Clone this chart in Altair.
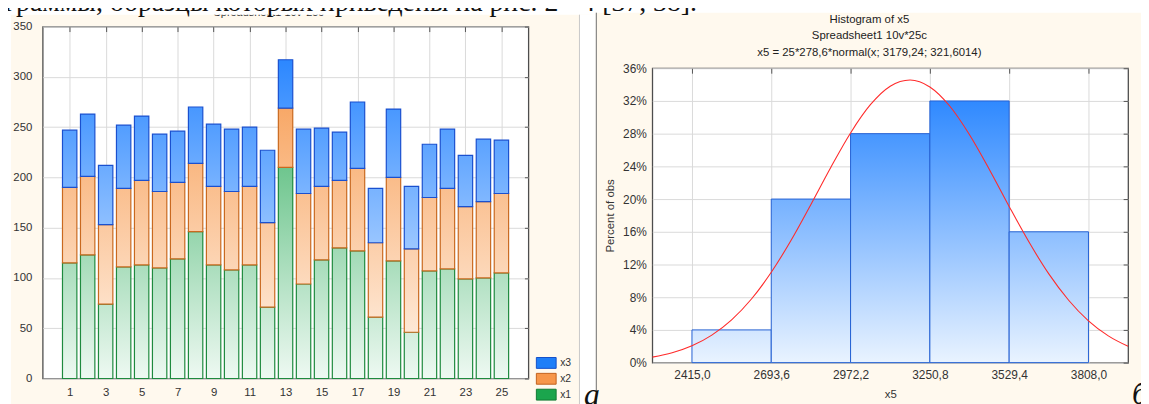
import altair as alt

# ---------------- left chart: stacked bars ----------------
categories = list(range(1, 26))
x1_vals = [115, 123, 74, 111, 113, 110, 119, 146, 113, 108, 113, 71, 210,
           94, 118, 130, 127, 61, 117, 46, 107, 109, 99, 100, 105]
x2_vals = [75, 78, 79, 78, 84, 76, 76, 68, 78, 78, 78, 84, 59,
           90, 73, 67, 82, 74, 83, 83, 73, 80, 72, 76, 79]
x3_vals = [57, 62, 59, 63, 64, 57, 51, 56, 62, 62, 59, 72, 48,
           64, 58, 48, 66, 54, 68, 62, 53, 59, 51, 62, 53]
series_names = ["x1", "x2", "x3"]
legend_order = ["x3", "x2", "x1"]
cat_ticks = list(range(1, 26, 2))
val_ticks = list(range(0, 351, 50))

# ---------------- right chart: histogram ----------------
bin_edges = [2415.0, 2693.6, 2972.2, 3250.8, 3529.4, 3808.0]
percent_obs = [4, 20, 28, 32, 16]
curve_x = [2275.7, 2345.4, 2415.0, 2484.7, 2554.3, 2624.0, 2693.6, 2763.3,
           2832.9, 2902.6, 2972.2, 3041.9, 3111.5, 3181.2, 3250.8, 3320.5,
           3390.1, 3459.8, 3529.4, 3599.1, 3668.7, 3738.4, 3808.0, 3877.7, 3947.3]
curve_pct = [0.67, 1.20, 2.05, 3.36, 5.23, 7.78, 11.05, 14.97, 19.35, 23.87,
             28.09, 31.54, 33.80, 34.56, 33.71, 31.38, 27.87, 23.63, 19.10,
             14.74, 10.85, 7.63, 5.11, 3.27, 1.99]
pct_ticks = list(range(0, 37, 4))
hist_title = ["Histogram of x5", "Spreadsheet1 10v*25c",
              "x5 = 25*278,6*normal(x; 3179,24; 321,6014)"]
left_title = "Spreadsheet1 10v*25c"
page_text = "диаграммы, образцы которых приведены на рис. 2 - 4 [37, 38]."

# ---------------- tables ----------------
stack_rows = []
for c, v1, v2, v3 in zip(categories, x1_vals, x2_vals, x3_vals):
    base = 0
    for name, v in zip(series_names, (v1, v2, v3)):
        stack_rows.append({"c": c, "s": name, "b": base, "t": base + v})
        base += v
hist_rows = [{"lo": lo, "hi": hi, "pct": p}
             for lo, hi, p in zip(bin_edges[:-1], bin_edges[1:], percent_obs)]
curve_rows = [{"cx": x, "cy": y} for x, y in zip(curve_x, curve_pct)]
legend_rows = [{"s": s} for s in legend_order]
one = alt.Data(values=[{"k": 0}])

FONT = "Liberation Sans"
SERIF = "Liberation Serif"

# per-series style: (gradient colour at 350, gradient colour at 0, outline)
series_style = {
    "x1": ("#19A34B", "#EEF9F2", "#1E8A3E"),
    "x2": ("#F6913F", "#FFF5EC", "#C9691F"),
    "x3": ("#187CFF", "#E9F3FF", "#1A50CF"),
}
hist_grad = ("{gradient: 'linear', x1: 0.5, x2: 0.5, y1: (datum.pct - 36) / datum.pct, y2: 1, "
             "stops: [{offset: 0, color: '#187CFF'}, {offset: 1, color: '#E9F3FF'}]}")

xs_left = alt.Scale(domain=[-0.5, 26.5], nice=False, zero=False)
ys_left = alt.Scale(domain=[0, 350], nice=False, zero=False)
fill_scale = alt.Scale(domain=legend_order, range=["#1E7EF8", "#F7964A", "#1BA54D"])
stroke_scale = alt.Scale(domain=legend_order, range=["#1450C8", "#C0621E", "#127A35"])


def band(x, x2, y, y2, color):
    return alt.Chart(one).mark_rect(fill=color, strokeWidth=0).encode(
        x=alt.value(x), x2=alt.value(x2), y=alt.value(y), y2=alt.value(y2))


def vline(x, y, y2, color):
    return alt.Chart(one).mark_rule(color=color, strokeWidth=1).encode(
        x=alt.value(x), y=alt.value(y), y2=alt.value(y2))


def label(text, x, y, font, size, color, align="left", style="normal"):
    return alt.Chart(one).mark_text(text=text, font=font, fontSize=size, color=color,
                                    align=align, baseline="alphabetic",
                                    fontStyle=style).encode(x=alt.value(x), y=alt.value(y))


deco = [
    label(left_title, 228, -11, FONT, 11, "#333333", align="center"),
    band(-142, 558, -84, -12, "white"),
    band(558, 1158, -84, -14, "white"),
    band(-142, -32, -12, 406, "white"),
    band(541, 558, -12, 406, "white"),
    vline(541.5, -12, 406, "#C8C8C8"),
    vline(558.5, -14, 406, "#6E6E6E"),
    label(page_text, -80, -16, SERIF, 28, "#111111"),
    label("а", 546, 382, SERIF, 32, "#111111", style="italic"),
    label("б", 1099, 381, SERIF, 32, "#111111", style="italic"),
]

bottom_axis = alt.Axis(values=cat_ticks, grid=True, title=None,
                       labelFontSize=11.5, labelPadding=8)
left_axis = alt.Axis(values=val_ticks, grid=True, title=None,
                     labelFontSize=11.5, labelPadding=11)

bar_layers = []
for i, name in enumerate(series_names):
    top_c, bot_c, line_c = series_style[name]
    grad = ("{gradient: 'linear', x1: 0.5, x2: 0.5, "
            "y1: (datum.t - 350) / (datum.t - datum.b), "
            "y2: datum.t / (datum.t - datum.b), "
            "stops: [{offset: 0, color: '" + top_c + "'}, {offset: 1, color: '" + bot_c + "'}]}")
    layer = alt.Chart(alt.Data(values=stack_rows)).transform_filter(
        alt.datum.s == name
    ).transform_calculate(
        xlo="datum.c - 0.4", xhi="datum.c + 0.4", grad=grad
    ).mark_bar(stroke=line_c, strokeWidth=1.2).encode(
        x=alt.X("xlo:Q", scale=xs_left, axis=bottom_axis if i == 0 else None),
        x2="xhi:Q",
        y=alt.Y("b:Q", scale=ys_left, axis=left_axis if i == 0 else None),
        y2="t:Q",
        fill=alt.Fill("grad:N", scale=None, legend=None),
    )
    bar_layers.append(layer)

leg = alt.Legend(orient="none", legendX=500, legendY=331.3, title=None, padding=0,
                 symbolType="M-1.33,-0.73L1.33,-0.73L1.33,0.73L-1.33,0.73Z",
                 symbolSize=225, symbolStrokeWidth=1, symbolOpacity=1,
                 labelFont=FONT, labelFontSize=10.5, labelColor="#333333",
                 labelOffset=6, rowPadding=0)

legend_layer = alt.Chart(alt.Data(values=legend_rows)).mark_point(
    filled=True, opacity=1, clip=True
).encode(
    x=alt.XDatum(-5, type="quantitative", scale=xs_left,
                 axis=alt.Axis(orient="top", values=cat_ticks, labels=False, grid=False,
                               domain=False, ticks=True, tickSize=5, tickColor="#555555",
                               tickWidth=1, offset=-5, title=None)),
    y=alt.YDatum(-50, type="quantitative", scale=ys_left,
                 axis=alt.Axis(orient="right", values=val_ticks, labels=False, grid=False,
                               domain=False, ticks=True, tickSize=4, tickColor="#555555",
                               tickWidth=1, offset=-4, title=None)),
    color=alt.Color("s:N", scale=fill_scale, legend=leg),
    stroke=alt.Stroke("s:N", scale=stroke_scale, legend=leg),
)

left = alt.layer(*deco, *bar_layers, legend_layer).resolve_axis(
    x="independent", y="independent"
).properties(width=490, height=355,
             view=alt.ViewBackground(fill="white", stroke="#4D4D4D", strokeWidth=1.3))

# ---------------- histogram ----------------
xs_h = alt.Scale(domain=[2275.7, 3947.3], nice=False, zero=False)
ys_h = alt.Scale(domain=[0, 36], nice=False, zero=False)

hist_bars = alt.Chart(alt.Data(values=hist_rows)).transform_calculate(
    grad=hist_grad
).mark_bar(stroke="#2360D2", strokeWidth=1).encode(
    x=alt.X("lo:Q", scale=xs_h,
            axis=alt.Axis(values=bin_edges,
                          labelExpr="replace(format(datum.value, '.1f'), '.', ',')",
                          title="x5", labelFontSize=12, labelPadding=7,
                          titleFontSize=11.5, titlePadding=8)),
    x2="hi:Q",
    y=alt.Y("pct:Q", scale=ys_h,
            axis=alt.Axis(values=pct_ticks, labelExpr="datum.value + '%'", grid=True,
                          title="Percent of obs", labelFontSize=12, labelPadding=6,
                          titleFontSize=11.5, titlePadding=7)),
    y2=alt.datum(0),
    fill=alt.Fill("grad:N", scale=None, legend=None),
)

curve = alt.Chart(alt.Data(values=curve_rows)).mark_line(
    color="#FF2B2B", strokeWidth=1.1, clip=True, interpolate="monotone"
).encode(
    x=alt.X("cx:Q", scale=xs_h,
            axis=alt.Axis(orient="top", values=bin_edges, labels=False, grid=False,
                          domain=False, ticks=True, tickSize=5, tickColor="#555555",
                          offset=-5, title=None)),
    y=alt.Y("cy:Q", scale=ys_h,
            axis=alt.Axis(orient="right", values=pct_ticks, labels=False, grid=False,
                          domain=False, ticks=True, tickSize=5, tickColor="#555555",
                          offset=-5, title=None)),
)

hist = alt.layer(hist_bars, curve).resolve_axis(
    x="independent", y="independent"
).properties(
    width=480, height=297,
    view=alt.ViewBackground(fill="white", stroke="#4D4D4D", strokeWidth=1.3),
    title=alt.TitleParams(text=hist_title, font=FONT, fontSize=11.5, fontWeight="normal",
                          color="#222222", anchor="middle", dx=-21, offset=4,
                          lineHeight=16.5),
)

spacer = alt.Chart(one).mark_point(opacity=0).encode(
    x=alt.value(0), y=alt.value(0)
).properties(width=480, height=42)

right_col = alt.vconcat(spacer, hist, spacing=0, bounds="flush")

chart = alt.hconcat(left, right_col, spacing=125, bounds="flush").properties(
    padding={"left": -108, "top": -68, "right": -51, "bottom": -26}
).configure(
    background="#FFF9EE", font=FONT
).configure_view(
    stroke="transparent"
).configure_axis(
    labelFont=FONT, titleFont=FONT, labelColor="#333333", titleColor="#333333",
    titleFontWeight="normal", domain=False, ticks=False,
    gridColor="#DADADA", gridWidth=1, labelFlush=False
)

chart.save("out.html", embed_options={"renderer": "svg", "actions": False})
